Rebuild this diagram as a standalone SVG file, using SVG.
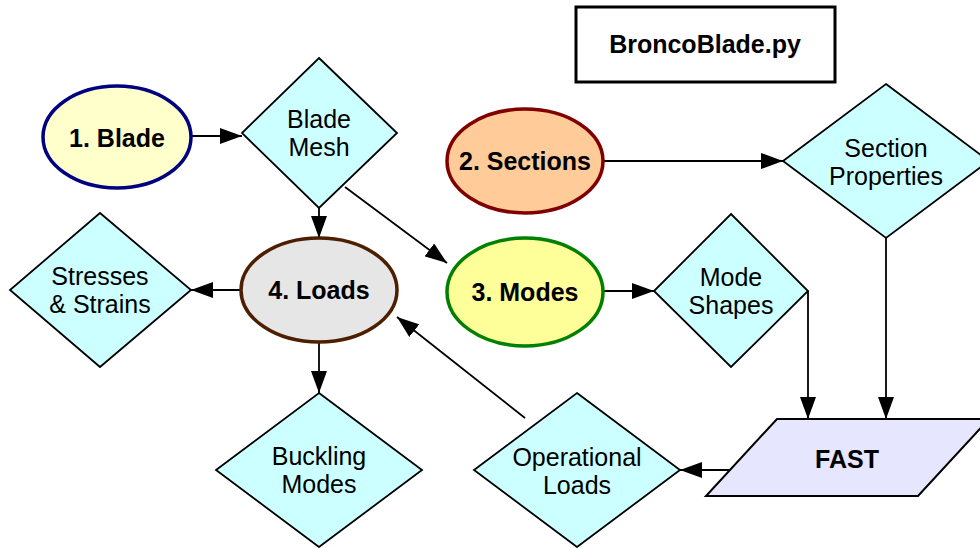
<svg xmlns="http://www.w3.org/2000/svg" width="980" height="548" viewBox="0 0 980 548">
<defs>
<style>
.dia{fill:#ccffff;stroke:#000;stroke-width:1.8;stroke-linejoin:miter}
.ell{stroke-width:3.5}
.t{font-family:"Liberation Sans",Arial,sans-serif;font-size:25px;text-anchor:middle;fill:#000}
.b{font-weight:bold}
.c{fill:none;stroke:#000;stroke-width:1.8}
</style>
<marker id="ah" markerUnits="userSpaceOnUse" markerWidth="22" markerHeight="16" refX="22" refY="8" orient="auto">
<path d="M0,0 L22,8 L0,16 Z" fill="#000"/>
</marker>
</defs>
<rect width="980" height="548" fill="#fff"/>

<g id="title">
<rect x="576" y="7" width="259" height="75" fill="#fff" stroke="#000" stroke-width="3"/>
<text class="t b" x="705" y="53">BroncoBlade.py</text>
</g>

<g id="connectors">
<line class="c" x1="192" y1="136" x2="242" y2="136" marker-end="url(#ah)"/>
<line class="c" x1="319" y1="208" x2="319" y2="238" marker-end="url(#ah)"/>
<line class="c" x1="345" y1="187" x2="447" y2="263" marker-end="url(#ah)"/>
<line class="c" x1="604" y1="161" x2="783" y2="161" marker-end="url(#ah)"/>
<line class="c" x1="604" y1="291" x2="654" y2="291" marker-end="url(#ah)"/>
<polyline class="c" points="808,291 808,419" marker-end="url(#ah)"/>
<line class="c" x1="886" y1="238" x2="886" y2="419" marker-end="url(#ah)"/>
<line class="c" x1="732" y1="470" x2="680" y2="470" marker-end="url(#ah)"/>
<line class="c" x1="525" y1="418" x2="397" y2="317" marker-end="url(#ah)"/>
<line class="c" x1="242" y1="290" x2="191" y2="290" marker-end="url(#ah)"/>
<line class="c" x1="319" y1="342" x2="319" y2="393" marker-end="url(#ah)"/>
</g>

<g id="blade">
<ellipse class="ell" cx="117" cy="137" rx="74" ry="51" fill="#ffffcc" stroke="#000080"/>
<text class="t b" x="117" y="147">1. Blade</text>
</g>

<g id="bladeMesh">
<polygon class="dia" points="319,58 397,133 319,208 242,133"/>
<text class="t" x="319" y="128">Blade</text>
<text class="t" x="319" y="156">Mesh</text>
</g>

<g id="sections">
<ellipse class="ell" cx="525" cy="161" rx="78" ry="52" fill="#ffcc99" stroke="#800000"/>
<text class="t b" x="525" y="170">2. Sections</text>
</g>

<g id="sectionProperties">
<polygon class="dia" points="886,84 989,161 886,238 783,161"/>
<text class="t" x="886" y="157">Section</text>
<text class="t" x="886" y="185">Properties</text>
</g>

<g id="modes">
<ellipse class="ell" cx="525" cy="292" rx="78" ry="54" fill="#ffff99" stroke="#008000"/>
<text class="t b" x="525" y="301">3. Modes</text>
</g>

<g id="modeShapes">
<polygon class="dia" points="731,214 808,291 731,367 654,291"/>
<text class="t" x="731" y="286">Mode</text>
<text class="t" x="731" y="314">Shapes</text>
</g>

<g id="loads">
<ellipse class="ell" cx="319" cy="290" rx="78" ry="52" fill="#e6e6e6" stroke="#4d1f00"/>
<text class="t b" x="319" y="299">4. Loads</text>
</g>

<g id="stresses">
<polygon class="dia" points="100,213 191,290 100,367 10,290"/>
<text class="t" x="100" y="285">Stresses</text>
<text class="t" x="100" y="313">&amp; Strains</text>
</g>

<g id="buckling">
<polygon class="dia" points="319,393 422,470 319,547 216,470"/>
<text class="t" x="319" y="465">Buckling</text>
<text class="t" x="319" y="493">Modes</text>
</g>

<g id="operationalLoads">
<polygon class="dia" points="577,393 680,470 577,547 474,470"/>
<text class="t" x="577" y="466">Operational</text>
<text class="t" x="577" y="494">Loads</text>
</g>

<g id="fast">
<polygon points="777,419 989,419 918,496 706,496" fill="#e6e6ff" stroke="#000" stroke-width="2"/>
<text class="t b" x="847" y="468">FAST</text>
</g>
</svg>
